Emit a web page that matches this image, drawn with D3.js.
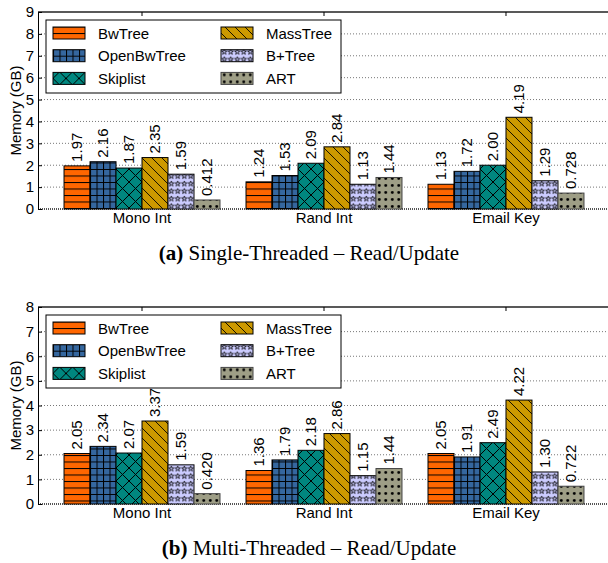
<!DOCTYPE html>
<html>
<head>
<meta charset="utf-8">
<script src="https://cdn.jsdelivr.net/npm/d3@7"></script>
<style>
  body { margin: 0; background: #fff; }
  svg { display: block; }
</style>
</head>
<body>
<div id="viz"></div>
<script>
var categories = ["Mono Int", "Rand Int", "Email Key"];
var series = ["BwTree", "OpenBwTree", "Skiplist", "MassTree", "B+Tree", "ART"];

// memory in GB, one value per series, per key type
var singleMono  = [1.97, 2.16, 1.87, 2.35, 1.59, 0.412];
var singleRand  = [1.24, 1.53, 2.09, 2.84, 1.13, 1.44];
var singleEmail = [1.13, 1.72, 2.00, 4.19, 1.29, 0.728];

var multiMono  = [2.05, 2.34, 2.07, 3.37, 1.59, 0.420];
var multiRand  = [1.36, 1.79, 2.18, 2.86, 1.15, 1.44];
var multiEmail = [2.05, 1.91, 2.49, 4.22, 1.30, 0.722];

var singleTicks = [0, 1, 2, 3, 4, 5, 6, 7, 8, 9];
var multiTicks  = [0, 1, 2, 3, 4, 5, 6, 7, 8];

var width = 608,
    height = 563;

var colors = ["#ff6600", "#35679f", "#00877f", "#cc9900", "#ccccff", "#9e9e86"];
var fmt = d3.format(".3r");
var font = "'Liberation Sans', Arial, sans-serif";

var svg = d3.select("#viz").append("svg")
    .attr("width", width)
    .attr("height", height);

// fill patterns
var defs = svg.append("defs");

function pat(id, w, h, bg) {
  var p = defs.append("pattern")
      .attr("id", id)
      .attr("patternUnits", "userSpaceOnUse")
      .attr("width", w)
      .attr("height", h);
  p.append("rect").attr("width", w).attr("height", h).attr("fill", bg);
  return p;
}

var p0 = pat("p0", 6.5, 6.5, colors[0]);
p0.append("path").attr("d", "M0,0.5H6.5").attr("stroke", "#000").attr("stroke-width", 1);

var p1 = pat("p1", 6.5, 6.5, colors[1]);
p1.append("path").attr("d", "M0,0.5H6.5M0.5,0V6.5").attr("stroke", "#000").attr("stroke-width", 1);

var p2 = pat("p2", 13, 13, colors[2]);
p2.append("path").attr("d", "M0,0L13,13M0,13L13,0").attr("stroke", "#000").attr("stroke-width", 1);

var p3 = pat("p3", 10, 10, colors[3]);
p3.append("path").attr("d", "M0,0L10,10M-5,5L5,15M5,-5L15,5").attr("stroke", "#000").attr("stroke-width", 0.9);

var p4 = pat("p4", 6.5, 7.5, colors[4]);
var star = d3.symbol().type(d3.symbolStar).size(9);
p4.append("path")
    .attr("d", star())
    .attr("transform", "translate(3.25,3.75)")
    .attr("fill", "none")
    .attr("stroke", "#000")
    .attr("stroke-width", 0.8);

var p5 = pat("p5", 6.5, 7, colors[5]);
p5.append("circle").attr("cx", 3.25).attr("cy", 3.5).attr("r", 1.4).attr("fill", "#000");

function fillOf(i) { return "url(#p" + i + ")"; }

var left = 38, right = 610;

var x = d3.scaleBand()
    .domain(categories)
    .range([left, right])
    .padding(0.143);

var x1 = d3.scaleBand()
    .domain(series)
    .range([0, x.bandwidth()]);

function drawPanel(top, bottom, rows, ticks, tag, title) {
  var yMax = ticks[ticks.length - 1];
  var y = d3.scaleLinear()
      .domain([0, yMax])
      .range([bottom, top]);

  var g = svg.append("g");

  // dotted grid
  g.selectAll(".grid")
      .data(ticks.slice(1, -1))
    .enter().append("line")
      .attr("x1", left)
      .attr("x2", right)
      .attr("y1", function(d) { return y(d); })
      .attr("y2", function(d) { return y(d); })
      .attr("stroke", "#777")
      .attr("stroke-width", 1)
      .attr("stroke-dasharray", "1,2");

  // top border and zero line
  g.append("line")
      .attr("x1", left).attr("x2", right)
      .attr("y1", top).attr("y2", top)
      .attr("stroke", "#222")
      .attr("stroke-width", 1.3);

  g.append("line")
      .attr("x1", left).attr("x2", right)
      .attr("y1", bottom).attr("y2", bottom)
      .attr("stroke", "#555")
      .attr("stroke-width", 2)
      .attr("stroke-dasharray", "1,1");

  // top ticks at group centres
  g.selectAll(".ttick")
      .data(categories)
    .enter().append("line")
      .attr("x1", function(d) { return x(d) + x.bandwidth() / 2; })
      .attr("x2", function(d) { return x(d) + x.bandwidth() / 2; })
      .attr("y1", top)
      .attr("y2", top + 4)
      .attr("stroke", "#000");

  // legend
  var lg = g.append("g").attr("transform", "translate(46," + (top + 8) + ")");
  lg.append("rect")
      .attr("width", 295)
      .attr("height", 73)
      .attr("fill", "#fff")
      .attr("stroke", "#000")
      .attr("stroke-width", 1);

  var item = lg.selectAll(".item")
      .data(series)
    .enter().append("g")
      .attr("transform", function(d, i) {
        return "translate(" + (7 + Math.floor(i / 3) * 168) + "," + (13 + (i % 3) * 22.7) + ")";
      });

  item.append("rect")
      .attr("x", 0)
      .attr("y", -6)
      .attr("width", 32)
      .attr("height", 12)
      .attr("fill", function(d, i) { return fillOf(i); })
      .attr("stroke", function(d, i) { return i == 5 ? "#444" : "#000"; })
      .attr("stroke-width", 1);

  item.append("text")
      .attr("x", 45)
      .attr("y", 5.5)
      .style("font-family", font)
      .style("font-size", "15px")
      .text(function(d) { return d; });

  // bars
  var groups = g.selectAll(".grp")
      .data(categories)
    .enter().append("g")
      .attr("transform", function(d) { return "translate(" + x(d) + ",0)"; });

  groups.selectAll("rect")
      .data(function(d, j) { return rows[j]; })
    .enter().append("rect")
      .attr("x", function(d, i) { return x1(series[i]); })
      .attr("y", function(d) { return y(d); })
      .attr("width", x1.bandwidth())
      .attr("height", function(d) { return bottom - y(d); })
      .attr("fill", function(d, i) { return fillOf(i); })
      .attr("stroke", function(d, i) { return i == 5 ? "#444" : "#000"; })
      .attr("stroke-width", 1);

  groups.selectAll("text")
      .data(function(d, j) { return rows[j]; })
    .enter().append("text")
      .attr("transform", function(d, i) {
        return "translate(" + (x1(series[i]) + x1.bandwidth() / 2) + "," + (y(d) - 4) + ") rotate(-90)";
      })
      .attr("dy", "0.35em")
      .style("font-family", font)
      .style("font-size", "15px")
      .text(function(d) { return fmt(d); });

  // left axis
  var axis = g.append("g")
      .attr("transform", "translate(" + left + ",0)")
      .call(d3.axisLeft(y).tickValues(ticks).tickSize(-4).tickSizeOuter(0).tickPadding(4));
  axis.selectAll("text")
      .style("font-family", font)
      .style("font-size", "15px")
      .attr("fill", "#000");
  axis.select(".domain").attr("stroke", "#000");

  g.append("text")
      .attr("transform", "translate(21," + ((top + bottom) / 2) + ") rotate(-90)")
      .attr("text-anchor", "middle")
      .style("font-family", font)
      .style("font-size", "15px")
      .text("Memory (GB)");

  // category labels
  g.selectAll(".cat")
      .data(categories)
    .enter().append("text")
      .attr("x", function(d) { return x(d) + x.bandwidth() / 2; })
      .attr("y", bottom + 13.5)
      .attr("text-anchor", "middle")
      .style("font-family", font)
      .style("font-size", "15px")
      .text(function(d) { return d; });

  // caption
  var cap = g.append("text")
      .attr("x", 309)
      .attr("y", bottom + 51)
      .attr("text-anchor", "middle")
      .style("font-family", "'Liberation Serif', 'DejaVu Serif', serif")
      .style("font-size", "21px");
  cap.append("tspan").style("font-weight", "bold").text(tag);
  cap.append("tspan").text(" " + title);
}

drawPanel(12, 209, [singleMono, singleRand, singleEmail], singleTicks,
    "(a)", "Single-Threaded \u2013 Read/Update");
drawPanel(307, 504, [multiMono, multiRand, multiEmail], multiTicks,
    "(b)", "Multi-Threaded \u2013 Read/Update");
</script>
</body>
</html>
